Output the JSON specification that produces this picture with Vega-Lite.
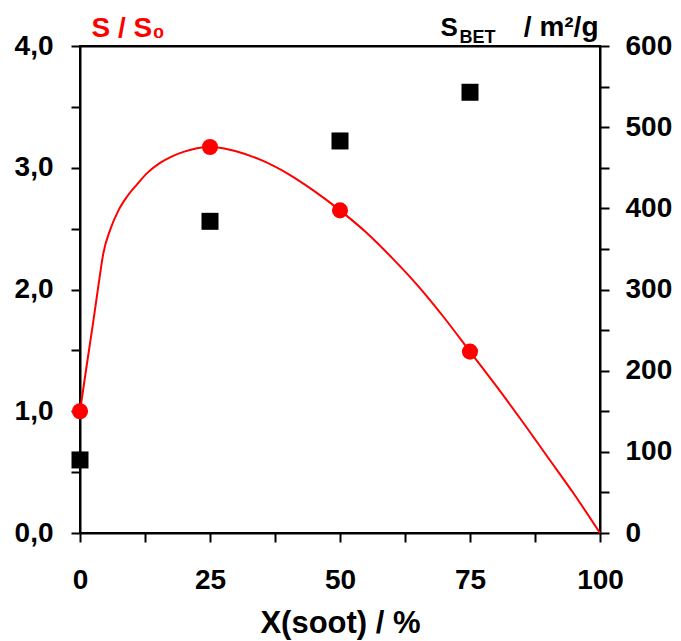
{
  "$schema": "https://vega.github.io/schema/vega-lite/v6.json",
  "width": 520,
  "height": 487,
  "autosize": {"type": "none"},
  "padding": {"left": 80, "top": 46, "right": 81, "bottom": 108},
  "background": "white",
  "config": {
    "view": {"stroke": "#000000", "strokeWidth": 2},
    "font": "Liberation Sans",
    "axis": {
      "grid": false,
      "domainColor": "#000000",
      "domainWidth": 2,
      "tickColor": "#000000",
      "tickWidth": 2,
      "tickSize": 9,
      "labelFont": "Liberation Sans",
      "labelFontWeight": "bold",
      "labelFontSize": 28,
      "labelColor": "#000000",
      "titleFont": "Liberation Sans",
      "titleFontWeight": "bold",
      "titleColor": "#000000"
    }
  },
  "datasets": {
    "curve": [
      {"x": 0, "s": 1.0},
      {"x": 1.3, "s": 1.38},
      {"x": 2.6, "s": 1.75},
      {"x": 3.6, "s": 2.05},
      {"x": 4.5, "s": 2.3},
      {"x": 5.8, "s": 2.49},
      {"x": 7.4, "s": 2.65},
      {"x": 9, "s": 2.76},
      {"x": 10.9, "s": 2.86},
      {"x": 13, "s": 2.96},
      {"x": 15.4, "s": 3.04},
      {"x": 17.5, "s": 3.09},
      {"x": 19.9, "s": 3.13},
      {"x": 22.5, "s": 3.16},
      {"x": 25, "s": 3.17},
      {"x": 27.5, "s": 3.16},
      {"x": 30, "s": 3.135},
      {"x": 35, "s": 3.06},
      {"x": 40, "s": 2.95},
      {"x": 45, "s": 2.81},
      {"x": 50, "s": 2.65},
      {"x": 55, "s": 2.47},
      {"x": 60, "s": 2.26},
      {"x": 65, "s": 2.03},
      {"x": 70, "s": 1.77},
      {"x": 75, "s": 1.49},
      {"x": 80, "s": 1.21},
      {"x": 85, "s": 0.92},
      {"x": 90, "s": 0.62},
      {"x": 95, "s": 0.32},
      {"x": 100, "s": 0}
    ],
    "ratio": [
      {"x": 0, "s": 1.0},
      {"x": 25, "s": 3.17},
      {"x": 50, "s": 2.65},
      {"x": 75, "s": 1.49}
    ],
    "bet": [
      {"x": 0, "sbet": 90},
      {"x": 25, "sbet": 384},
      {"x": 50, "sbet": 483},
      {"x": 75, "sbet": 543}
    ]
  },
  "layer": [
    {
      "layer": [
        {
          "data": {"name": "curve"},
          "mark": {"type": "line", "color": "#ff0000", "strokeWidth": 2, "interpolate": "monotone"},
          "encoding": {
            "x": {
              "field": "x", "type": "quantitative",
              "scale": {"domain": [0, 100], "nice": false, "zero": false},
              "axis": {
                "orient": "bottom",
                "title": "X(soot) / %",
                "titleFontSize": 31,
                "titlePadding": 14,
                "values": [0, 12.5, 25, 37.5, 50, 62.5, 75, 87.5, 100],
                "labelExpr": "datum.value % 25 === 0 ? format(datum.value, 'd') : ''",
                "labelPadding": 24,
                "labelFlush": false
              }
            },
            "y": {
              "field": "s", "type": "quantitative",
              "scale": {"domain": [0, 4], "nice": false},
              "axis": {
                "orient": "left",
                "title": "S / S₀",
                "titleColor": "#ff0000",
                "titleFontSize": 28,
                "titleAngle": 0,
                "titleAlign": "left",
                "titleBaseline": "alphabetic",
                "titleX": 11,
                "titleY": -10,
                "values": [0, 0.5, 1, 1.5, 2, 2.5, 3, 3.5, 4],
                "labelExpr": "datum.value % 1 === 0 ? replace(format(datum.value, '.1f'), '.', ',') : ''",
                "labelPadding": 18,
                "labelFlush": false
              }
            }
          }
        },
        {
          "data": {"name": "ratio"},
          "mark": {"type": "circle", "color": "#ff0000", "opacity": 1, "size": 260},
          "encoding": {
            "x": {"field": "x", "type": "quantitative"},
            "y": {"field": "s", "type": "quantitative"}
          }
        }
      ]
    },
    {
      "data": {"name": "bet"},
      "mark": {"type": "square", "color": "#000000", "opacity": 1, "size": 289},
      "encoding": {
        "x": {
          "field": "x", "type": "quantitative",
          "scale": {"domain": [0, 100], "nice": false, "zero": false},
          "axis": {
            "orient": "top",
            "ticks": false,
            "tickSize": 0,
            "domain": true,
            "values": [72.9],
            "labelExpr": "'BET'",
            "labelFontSize": 18,
            "labelAlign": "left",
            "labelBaseline": "alphabetic",
            "labelPadding": 4,
            "labelFlush": false,
            "labelOverlap": false,
            "title": "S",
            "titleFontSize": 26,
            "titleAlign": "left",
            "titleBaseline": "alphabetic",
            "titleX": 360,
            "titleY": -11
          }
        },
        "y": {
          "field": "sbet", "type": "quantitative",
          "scale": {"domain": [0, 600], "nice": false},
          "axis": {
            "orient": "right",
            "title": "/ m²/g",
            "titleFontSize": 28,
            "titleAngle": 0,
            "titleAlign": "right",
            "titleBaseline": "alphabetic",
            "titleX": -2,
            "titleY": -11,
            "values": [0, 50, 100, 150, 200, 250, 300, 350, 400, 450, 500, 550, 600],
            "labelExpr": "datum.value % 100 === 0 ? format(datum.value, 'd') : ''",
            "labelPadding": 16,
            "labelFlush": false
          }
        }
      }
    }
  ],
  "resolve": {"scale": {"y": "independent"}, "axis": {"x": "independent"}}
}
